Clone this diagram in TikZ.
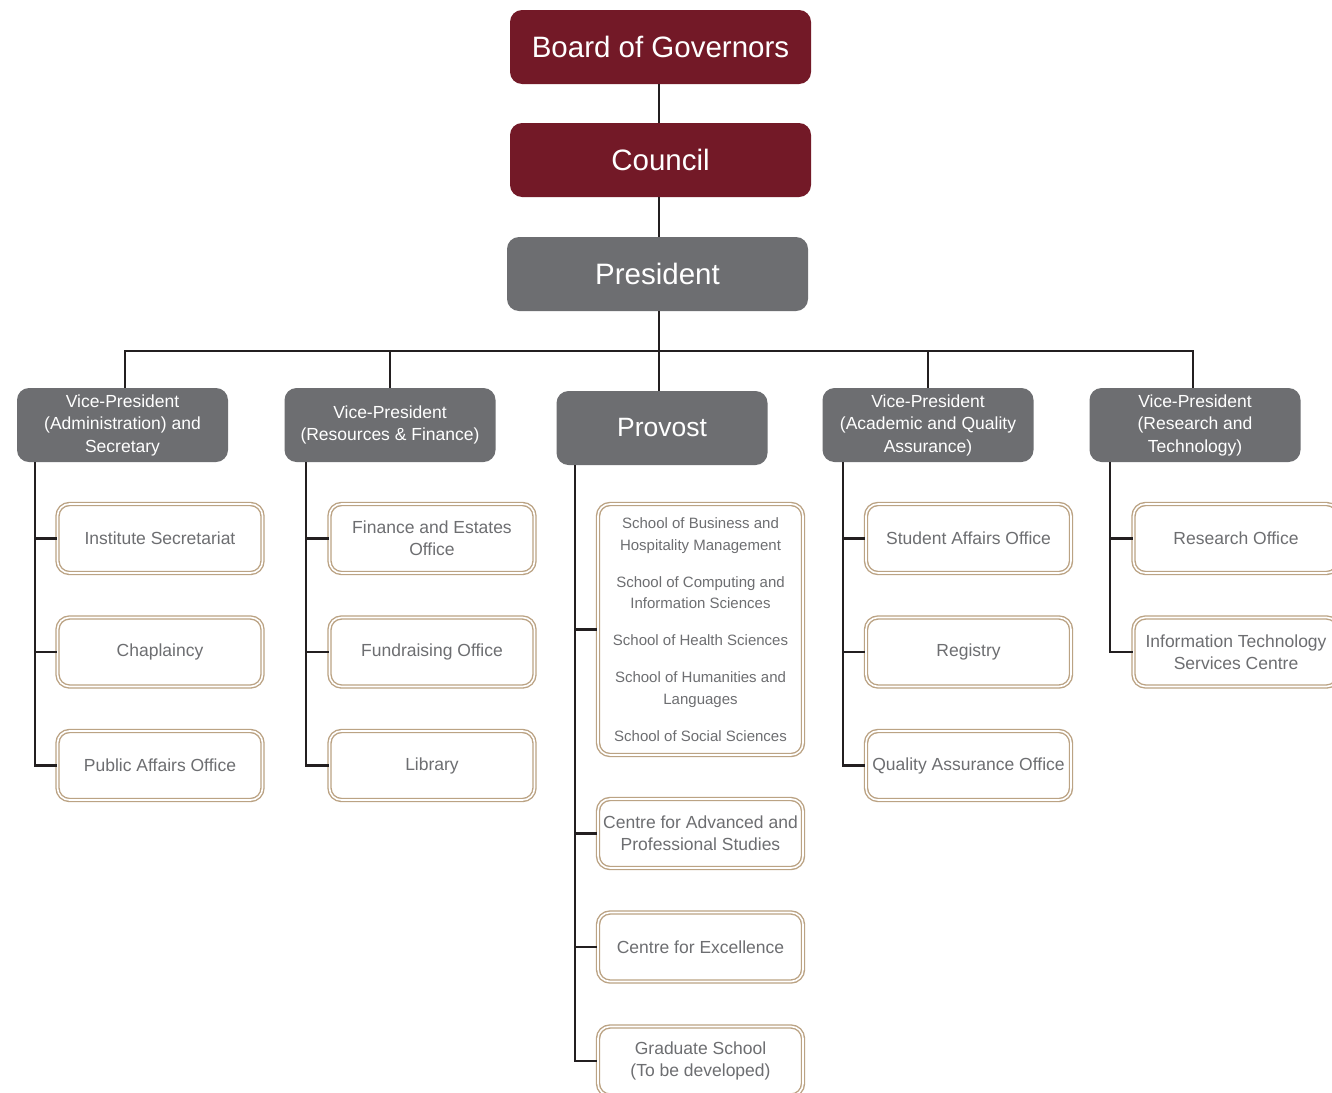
\documentclass[tikz,border=0pt]{standalone}
\usepackage{fontspec}
\setmainfont{Liberation Sans}
\definecolor{boardred}{HTML}{731927}
\definecolor{vpgrey}{HTML}{6D6E71}
\definecolor{tan}{HTML}{BBA384}
\definecolor{txtgrey}{HTML}{6D6E71}
\definecolor{linedark}{HTML}{231F20}
\begin{document}
\begin{tikzpicture}[x=1pt,y=-1pt,
  topbox/.style={fill=boardred, rounded corners=12pt, minimum width=301pt, minimum height=74pt,
    text=white, font=\fontsize{29.5}{34}\selectfont, inner sep=0pt},
  presbox/.style={topbox, fill=vpgrey},
  vpbox/.style={fill=vpgrey, rounded corners=12pt, minimum width=211pt, minimum height=74pt,
    text=white, align=center, font=\fontsize{17.5}{22.5}\selectfont, inner sep=0pt},
  unitbox/.style={draw=tan, double=white, double distance=1.6pt, line width=1.4pt,
    rounded corners=12pt, minimum width=205pt, minimum height=69pt, fill=white,
    text=txtgrey, align=center, font=\fontsize{17.5}{22}\selectfont, inner sep=0pt},
  conn/.style={draw=linedark, line width=2.4pt},
]
\useasboundingbox[fill=white] (0,0) rectangle (1332,1092);

% top chain
\node[topbox] (bog) at (660.5,47) {Board of Governors};
\node[topbox] (council) at (660.5,160) {Council};
\node[presbox] (pres) at (657.5,274) {President};

% vice presidents
\node[vpbox] (vpa) at (122.5,425) {Vice-President\\(Administration) and\\Secretary};
\node[vpbox] (vpr) at (390,425) {Vice-President\\(Resources \& Finance)};
\node[vpbox, font=\fontsize{26.5}{30}\selectfont] (prov) at (662,428) {Provost};
\node[vpbox] (vpq) at (928,425) {Vice-President\\(Academic and Quality\\Assurance)};
\node[vpbox] (vpt) at (1195,425) {Vice-President\\(Research and\\Technology)};

% connectors top
\coordinate (bus) at (659,351);
\draw[conn] (bog.south -| 659,0) -- (council.north -| 659,0);
\draw[conn] (council.south -| 659,0) -- (pres.north -| 659,0);
\draw[conn] (pres.south -| 659,0) -- (prov.north -| 659,0);
\draw[conn] (vpa.north -| 125,0) |- (bus) -| (vpt.north -| 1193,0);
\draw[conn] (vpr.north -| 390,0) -- (vpr.north |- bus);
\draw[conn] (vpq.north) -- (vpq.north |- bus);

% admin column
\node[unitbox] (a1) at (160,538.5) {Institute Secretariat};
\node[unitbox] (a2) at (160,652) {Chaplaincy};
\node[unitbox] (a3) at (160,765.5) {Public Affairs Office};
\coordinate (ta) at (35,462);
\draw[conn] (ta) |- (a3.west);
\draw[conn] (ta |- a1.west) -- (a1.west);
\draw[conn] (ta |- a2.west) -- (a2.west);

% resources column
\node[unitbox] (r1) at (432,538.5) {Finance and Estates\\Office};
\node[unitbox] (r2) at (432,652) {Fundraising Office};
\node[unitbox] (r3) at (432,765.5) {Library};
\coordinate (tr) at (306,462);
\draw[conn] (tr) |- (r3.west);
\draw[conn] (tr |- r1.west) -- (r1.west);
\draw[conn] (tr |- r2.west) -- (r2.west);

% provost column
\node[unitbox, minimum height=251pt, font=\fontsize{15}{21.5}\selectfont] (p1) at (700.5,629.5)
  {School of Business and\\Hospitality Management\\[15.5pt]School of Computing and\\Information Sciences\\[15.5pt]School of Health Sciences\\[15.5pt]School of Humanities and\\Languages\\[15.5pt]School of Social Sciences};
\node[unitbox] (p2) at (700.5,833.5) {Centre for Advanced and\\Professional Studies};
\node[unitbox] (p3) at (700.5,947) {Centre for Excellence};
\node[unitbox] (p4) at (700.5,1061) {Graduate School\\(To be developed)};
\coordinate (tp) at (575,465);
\draw[conn] (tp) |- (p4.west);
\draw[conn] (tp |- p1.west) -- (p1.west);
\draw[conn] (tp |- p2.west) -- (p2.west);
\draw[conn] (tp |- p3.west) -- (p3.west);

% academic column
\node[unitbox] (q1) at (968.5,538.5) {Student Affairs Office};
\node[unitbox] (q2) at (968.5,652) {Registry};
\node[unitbox] (q3) at (968.5,765.5) {Quality Assurance Office};
\coordinate (tq) at (843,462);
\draw[conn] (tq) |- (q3.west);
\draw[conn] (tq |- q1.west) -- (q1.west);
\draw[conn] (tq |- q2.west) -- (q2.west);

% research column
\node[unitbox] (t1) at (1236,538.5) {Research Office};
\node[unitbox] (t2) at (1236,652) {Information Technology\\Services Centre};
\coordinate (tt) at (1110,462);
\draw[conn] (tt) |- (t2.west);
\draw[conn] (tt |- t1.west) -- (t1.west);
\end{tikzpicture}
\end{document}
